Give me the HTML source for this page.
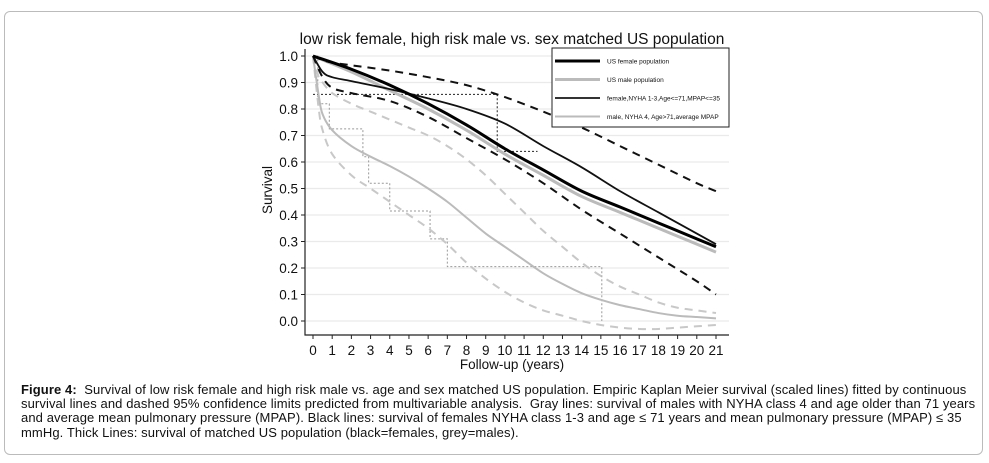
<!DOCTYPE html>
<html><head><meta charset="utf-8"><style>
body{margin:0;background:#fff;width:989px;height:463px;overflow:hidden;font-family:"Liberation Sans",Arial,sans-serif}
#frame{position:absolute;left:4px;top:11px;width:979px;height:444px;border:1px solid #bbb;border-radius:6px;box-sizing:border-box}
#cap{position:absolute;left:21px;top:383px;width:960px;font-size:13px;line-height:14.2px;color:#111;white-space:nowrap;letter-spacing:0.1px}
svg{position:absolute;left:0;top:0}
</style></head><body>
<div id="frame"></div>
<svg id="chart" width="989" height="380"></svg>
<div id="cap"><b>Figure 4:</b>&nbsp; Survival of low risk female and high risk male vs. age and sex matched US population. Empiric Kaplan Meier survival (scaled lines) fitted by continuous<br>survival lines and dashed 95% confidence limits predicted from multivariable analysis.&nbsp; Gray lines: survival of males with NYHA class 4 and age older than 71 years<br>and average mean pulmonary pressure (MPAP). Black lines: survival of females NYHA class 1-3 and age ≤ 71 years and mean pulmonary pressure (MPAP) ≤ 35<br>mmHg. Thick Lines: survival of matched US population (black=females, grey=males).</div>
<script>
const xTicks=[0,1,2,3,4,5,6,7,8,9,10,11,12,13,14,15,16,17,18,19,20,21];
const yTicks=[0,0.1,0.2,0.3,0.4,0.5,0.6,0.7,0.8,0.9,1.0];
const tStd=[0,2,4,6,8,10,12,14,16,18,20,21];
const usFemale=[1.0,0.95,0.89,0.82,0.74,0.65,0.57,0.49,0.43,0.37,0.31,0.28];
const usMale=[1.0,0.94,0.87,0.80,0.72,0.63,0.55,0.47,0.41,0.35,0.29,0.26];
const tFem=[0,0.5,1,2,4,6,8,10,12,14,16,18,20,21];
const femFit=[1.0,0.94,0.92,0.905,0.875,0.84,0.80,0.745,0.66,0.58,0.49,0.41,0.33,0.29];
const femUp=[1.0,0.985,0.975,0.965,0.945,0.92,0.89,0.845,0.79,0.73,0.66,0.59,0.52,0.49];
const femLo=[1.0,0.92,0.88,0.86,0.83,0.77,0.69,0.61,0.52,0.42,0.33,0.24,0.15,0.10];
const tMale=[0,0.3,0.5,1,2,3,4,5,6,7,8,9,10,11,12,13,14,15,16,17,18,19,20,21];
const maleFit=[1.0,0.85,0.78,0.72,0.66,0.62,0.585,0.545,0.50,0.45,0.39,0.33,0.28,0.23,0.18,0.14,0.105,0.08,0.06,0.045,0.03,0.02,0.015,0.01];
const maleUp=[1.0,0.92,0.9,0.86,0.82,0.79,0.76,0.73,0.70,0.66,0.61,0.55,0.48,0.41,0.34,0.28,0.22,0.17,0.13,0.10,0.07,0.05,0.04,0.03];
const maleLo=[1.0,0.8,0.72,0.63,0.55,0.50,0.45,0.40,0.35,0.29,0.22,0.16,0.11,0.07,0.04,0.02,0.0,-0.015,-0.025,-0.03,-0.03,-0.025,-0.02,-0.015];
const kmFemT=[0,9.6,11.7];
const kmFemS=[0.855,0.64,0.64];
const kmMaleT=[0,0.25,0.85,2.6,2.9,4.0,6.1,7.0,15.05];
const kmMaleS=[1.0,0.82,0.725,0.62,0.52,0.415,0.31,0.205,0.0];
const legendLabels=["US female population","US male population","female,NYHA 1-3,Age<=71,MPAP<=35","male, NYHA 4, Age>71,average MPAP"];

const X=v=>313+v*19.19, Y=v=>321-v*265;
const svg=document.getElementById('chart');const NS='http://www.w3.org/2000/svg';
function mk(tag,attrs,parent){const e=document.createElementNS(NS,tag);for(const k in attrs)e.setAttribute(k,attrs[k]);(parent||svg).appendChild(e);return e;}
function txt(x,y,s,size,anchor,extra){const e=mk('text',Object.assign({x:x,y:y,'font-size':size,'text-anchor':anchor||'start','font-family':'Liberation Sans, sans-serif',fill:'#111'},extra||{}));e.textContent=s;return e;}
yTicks.forEach(v=>{const g=mk('line',{x1:306,x2:729,y1:Y(v),y2:Y(v),stroke:'#eaeaea','stroke-width':1.3});

mk('line',{x1:301,x2:305,y1:Y(v),y2:Y(v),stroke:'#222'});
const l=txt(298,Y(v)+5,v.toFixed(1),13.5,'end');
});
xTicks.forEach(v=>{mk('line',{x1:X(v),x2:X(v),y1:335,y2:339,stroke:'#222'});
const l=txt(X(v),355,String(v),13.5,'middle');
});
const ax=mk('path',{d:'M305,49V335H729',fill:'none',stroke:'#222','stroke-width':1.2});

const tt=txt(512,44,'low risk female, high risk male  vs. sex matched US population',15.5,'middle',{'xml:space':'preserve'});

const xt=txt(512,369,'Follow-up (years)',13.5,'middle');

const yt=txt(0,0,'Survival',13.5,'middle',{transform:'translate(272,190) rotate(-90)'});

function smooth(ts,vs){const p=ts.map((t,i)=>[X(t),Y(vs[i])]);let d='M'+p[0][0]+','+p[0][1];
for(let i=0;i<p.length-1;i++){const p0=p[i-1]||p[i],p1=p[i],p2=p[i+1],p3=p[i+2]||p2;
const c1=[p1[0]+(p2[0]-p0[0])/6,p1[1]+(p2[1]-p0[1])/6],c2=[p2[0]-(p3[0]-p1[0])/6,p2[1]-(p3[1]-p1[1])/6];
d+=`C${c1[0]},${c1[1]} ${c2[0]},${c2[1]} ${p2[0]},${p2[1]}`;}return d;}
function step(ts,vs,end){let d=`M${X(ts[0])},${Y(vs[0])}`;for(let i=1;i<ts.length;i++){d+=`H${X(ts[i])}V${Y(vs[i])}`;}if(end!==undefined)d+=`H${X(end)}`;return d;}
function line(d,stroke,w,dash,name){const e=mk('path',{d:d,fill:'none',stroke:stroke,'stroke-width':w});if(dash)e.setAttribute('stroke-dasharray',dash);
return e;}
line(step(kmMaleT,kmMaleS),'#999',1,'2,2','km-male-steps');
line(step(kmFemT,kmFemS),'#222',1,'2,2','km-female-steps');
line(smooth(tMale,maleUp),'#c8c8c8',2,'8,6','male-upper-ci');
line(smooth(tMale,maleLo),'#c8c8c8',2,'8,6','male-lower-ci');
line(smooth(tMale,maleFit),'#bbb',2,null,'male-fitted-survival');
line(smooth(tStd,usMale),'#bbb',3,null,'us-male-population');
line(smooth(tFem,femUp),'#111',2,'8,6','female-upper-ci');
line(smooth(tFem,femLo),'#111',2,'8,6','female-lower-ci');
line(smooth(tFem,femFit),'#111',1.8,null,'female-fitted-survival');
line(smooth(tStd,usFemale),'#000',3,null,'us-female-population');
const lg=mk('rect',{x:552,y:48,width:177,height:79,fill:'#fff',stroke:'#222','stroke-width':1});

const lc=[['#000',3],['#bbb',3],['#333',2],['#bbb',2]];
legendLabels.forEach((s,i)=>{const y=61+i*18.5;
mk('line',{x1:555,x2:600,y1:y,y2:y,stroke:lc[i][0],'stroke-width':lc[i][1]});
const t=txt(607,y+2.5,s,6.5,'start');
});
</script>
</body></html>
